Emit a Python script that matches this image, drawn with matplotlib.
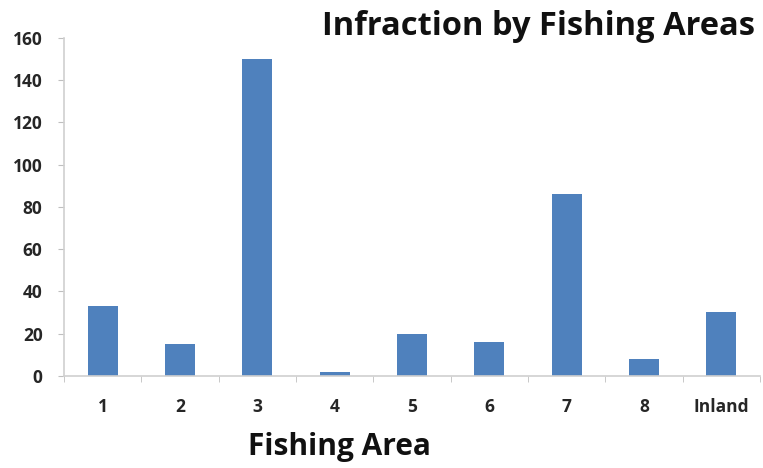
import matplotlib.pyplot as plt
import numpy as np

areas = ['1', '2', '3', '4', '5', '6', '7', '8', 'Inland']
infractions = [33, 15, 150, 2, 20, 16, 86, 8, 30]
y_ticks = [0, 20, 40, 60, 80, 100, 120, 140, 160]

plt.rcParams['font.family'] = ['Open Sans', 'DejaVu Sans']

fig = plt.figure(figsize=(7.63, 4.68), dpi=100)
ax = fig.add_axes([0.084, 0.197, 0.912, 0.722])

x = np.arange(len(areas))
ax.bar(x, infractions, width=0.39, color='#4f81bd', zorder=2)

ax.set_xlim(-0.5, len(areas) - 0.5)
ax.set_ylim(0, 160)
ax.set_yticks(y_ticks)
ax.set_yticklabels([str(v) for v in y_ticks], fontsize=12.5, fontweight='bold', color='#262626')

# category labels in the middle, tick marks on the boundaries
ax.set_xticks(x)
ax.set_xticklabels(areas, fontsize=12.5, fontweight='bold', color='#262626')
ax.tick_params(axis='x', length=0, pad=16)
ax.set_xticks(np.arange(len(areas) + 1) - 0.5, minor=True)
ax.tick_params(axis='x', which='minor', length=4.5, color='#bfbfbf')
ax.tick_params(axis='y', length=4.5, color='#bfbfbf', pad=11)

for side in ['top', 'right']:
    ax.spines[side].set_visible(False)
for side in ['left', 'bottom']:
    ax.spines[side].set_color('#d0d0d0')
    ax.spines[side].set_linewidth(1.2)

fig.text(0.99, 0.944, 'Infraction by Fishing Areas', ha='right', va='center',
         fontsize=23.5, fontweight='bold', color='#111111')
fig.text(0.445, 0.045, 'Fishing Area', ha='center', va='center',
         fontsize=21.5, fontweight='bold', color='#111111')

fig.savefig('out.png', dpi=100)
